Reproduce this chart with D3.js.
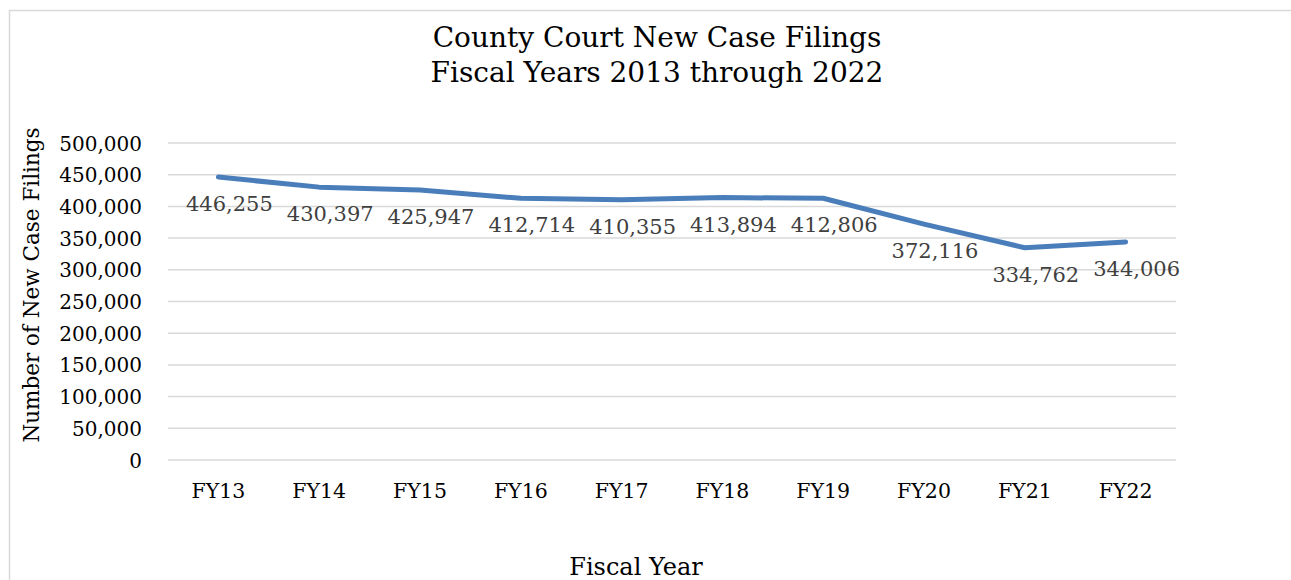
<!DOCTYPE html>
<html>
<head>
<meta charset="utf-8">
<script src="https://cdn.jsdelivr.net/npm/d3@7"></script>
<style>
  html, body { margin: 0; padding: 0; background: #fff; }
  svg { display: block; font-family: "DejaVu Serif", serif; }
</style>
</head>
<body>
<div id="chart"></div>
<script>
const years = ['FY13', 'FY14', 'FY15', 'FY16', 'FY17', 'FY18', 'FY19', 'FY20', 'FY21', 'FY22'];
const filings = [446255, 430397, 425947, 412714, 410355, 413894, 412806, 372116, 334762, 344006];
const yTicks = [0, 50000, 100000, 150000, 200000, 250000, 300000, 350000, 400000, 450000, 500000];
const titleLines = ['County Court New Case Filings', 'Fiscal Years 2013 through 2022'];

const width = 1291, height = 580;
const margin = { top: 143, right: 115, bottom: 120, left: 168 };

const svg = d3.select('#chart')
    .append('svg')
    .attr('width', width)
    .attr('height', height);

// chart frame
svg.append('rect')
    .attr('x', 9.5).attr('y', 10.5)
    .attr('width', width + 10).attr('height', height + 10)
    .attr('fill', 'none')
    .attr('stroke', '#d9d9d9')
    .attr('stroke-width', 1.5);

const x = d3.scaleBand()
    .domain(years)
    .range([margin.left, width - margin.right]);

const y = d3.scaleLinear()
    .domain([0, 500000])
    .range([height - margin.bottom, margin.top]);

// gridlines
svg.append('g')
    .selectAll('line')
    .data(yTicks)
    .enter().append('line')
    .attr('x1', margin.left)
    .attr('x2', width - margin.right)
    .attr('y1', d => y(d))
    .attr('y2', d => y(d))
    .attr('stroke', '#d9d9d9')
    .attr('stroke-width', 1.5);

// y axis
const yAxis = svg.append('g')
    .attr('transform', `translate(${margin.left - 23},0)`)
    .call(d3.axisLeft(y).tickValues(yTicks).tickSize(0).tickFormat(d3.format(',')));
yAxis.select('.domain').remove();
yAxis.selectAll('text')
    .attr('font-family', '"DejaVu Serif", serif')
    .attr('font-size', 20)
    .attr('fill', '#000')
    .attr('dy', '0.35em');

// x axis
const xAxis = svg.append('g')
    .attr('transform', `translate(0,${height - margin.bottom})`)
    .call(d3.axisBottom(x).tickSize(0));
xAxis.select('.domain').remove();
xAxis.selectAll('text')
    .attr('font-family', '"DejaVu Serif", serif')
    .attr('font-size', 20.5)
    .attr('fill', '#000')
    .attr('y', 23)
    .attr('dy', '0.71em');

// line
const line = d3.line()
    .x((d, i) => x(years[i]) + x.bandwidth() / 2)
    .y(d => y(d));

svg.append('path')
    .datum(filings)
    .attr('d', line)
    .attr('fill', 'none')
    .attr('stroke', '#4a7ebb')
    .attr('stroke-width', 5)
    .attr('stroke-linecap', 'round')
    .attr('stroke-linejoin', 'round');

// data labels
svg.append('g')
    .selectAll('text')
    .data(filings)
    .enter().append('text')
    .attr('x', (d, i) => x(years[i]) + x.bandwidth() / 2 + 11)
    .attr('y', d => y(d) + 34)
    .attr('text-anchor', 'middle')
    .attr('font-size', 21)
    .attr('fill', '#404040')
    .text(d => d3.format(',')(d));

// title
svg.append('text')
    .attr('x', 657)
    .attr('text-anchor', 'middle')
    .attr('font-size', 28)
    .attr('fill', '#000')
    .selectAll('tspan')
    .data(titleLines)
    .enter().append('tspan')
    .attr('x', 657)
    .attr('y', (d, i) => 47 + i * 35)
    .text(d => d);

// axis titles
svg.append('text')
    .attr('transform', `translate(39,285) rotate(-90)`)
    .attr('text-anchor', 'middle')
    .attr('font-size', 21.5)
    .attr('fill', '#000')
    .text('Number of New Case Filings');

svg.append('text')
    .attr('x', 636)
    .attr('y', 575)
    .attr('text-anchor', 'middle')
    .attr('font-size', 24)
    .attr('fill', '#000')
    .text('Fiscal Year');
</script>
</body>
</html>
